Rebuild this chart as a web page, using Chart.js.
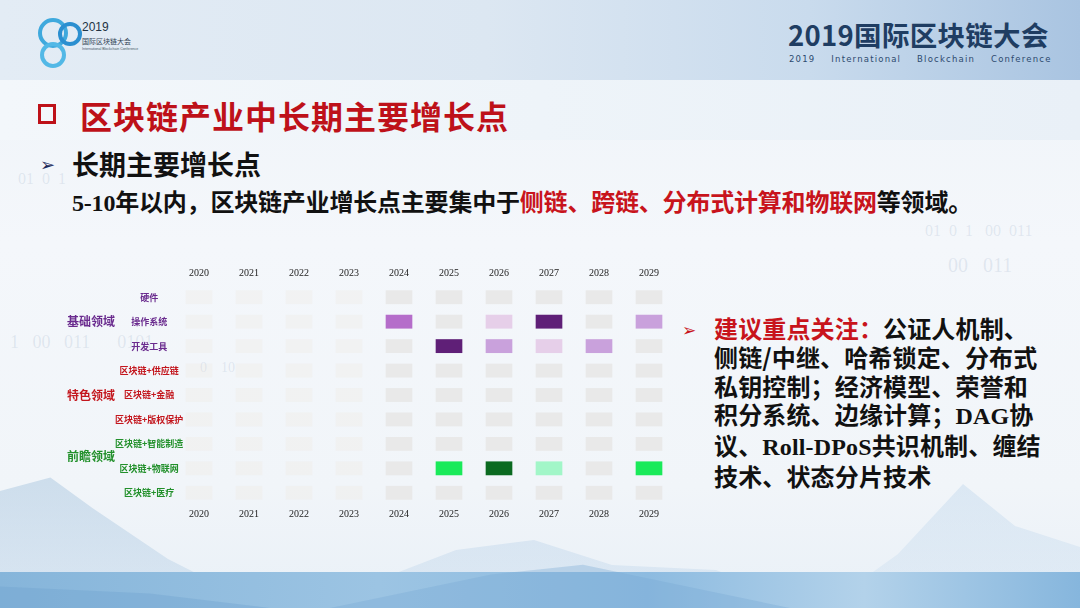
<!DOCTYPE html>
<html>
<head>
<meta charset="utf-8">
<script src="https://cdn.jsdelivr.net/npm/chart.js@4/dist/chart.umd.min.js"></script>
<style>
  html, body { margin: 0; padding: 0; }
  body { width: 1080px; height: 608px; position: relative; overflow: hidden;
         background: linear-gradient(180deg, #eef3f8 0%, #f4f7fb 40%, #f1f5f9 80%, #e9f0f7 100%);
         font-family: "Noto Sans CJK SC", sans-serif; }
  .abs { position: absolute; }
  #header { left: 0; top: 0; width: 1080px; height: 80px;
            background: linear-gradient(90deg, #e3ecf5 0%, #dce7f2 45%, #c9dbed 75%, #a9c4e1 100%); }
  #band2 { left: 0; top: 80px; width: 1080px; height: 60px;
           background: linear-gradient(90deg, #f3f7fb 0%, #eef4f9 50%, #e9f0f7 100%); }
  #bottom { left: 0; top: 572px; width: 1080px; height: 36px;
            background: linear-gradient(90deg, #86b5da 0%, #9cc4e3 35%, #8dbbe0 60%, #b3d2ea 80%, #86b6dd 100%); }
  .mount { position: absolute; }
  .bin { position: absolute; color: rgba(150,170,195,0.22); font-family: "Liberation Serif", serif; white-space: pre; }
  #title { left: 80px; top: 92px; font-size: 32px; font-weight: 700; color: #be1119; letter-spacing: 1px; white-space: nowrap; }
  #sq { left: 38px; top: 104px; width: 12px; height: 14px; border: 3px solid #be1119; }
  #sub { left: 72px; top: 144px; font-size: 27px; font-weight: 700; color: #111; white-space: nowrap; }
  #arrow1 { left: 40px; top: 150px; font-size: 18px; color: #1c2a5a; }
  #line2 { left: 72px; top: 183px; font-size: 24px; font-weight: 700; color: #111; white-space: nowrap; letter-spacing: -0.2px; }
  #line2 .n { font-family: "Liberation Serif", serif; }
  .red { color: #c8141c; }
  #side { left: 714px; top: 314px; font-size: 24px; font-weight: 700; color: #111; line-height: 28.8px; white-space: nowrap; letter-spacing: 0.15px; }
  #side .n { font-family: "Liberation Serif", serif; }
  #arrow2 { left: 682px; top: 316px; font-size: 17px; color: #c8141c; }
  #conf { left: 788px; top: 14px; font-size: 27.5px; font-weight: 700; color: #1f3d62; white-space: nowrap; letter-spacing: 0.3px; }
  #confEn { left: 789px; top: 54px; font-size: 8.5px; color: #2d4a6e; letter-spacing: 1.2px; word-spacing: 12px; white-space: nowrap; font-family: "DejaVu Sans", sans-serif; }
  #logoT1 { left: 82px; top: 20px; font-size: 12px; color: #234; font-family: "Liberation Sans", sans-serif; }
  #logoT2 { left: 82px; top: 36px; font-size: 7px; color: #345; }
  #logoT3 { left: 82px; top: 47px; font-size: 3.5px; color: #456; white-space: nowrap; font-family: "Liberation Sans", sans-serif; }
  .c { position: absolute; border-radius: 50%; }
  #chart { position: absolute; left: 0; top: 255px; }
</style>
</head>
<body>
<div id="header" class="abs"></div>
<div id="band2" class="abs"></div>

<!-- faint mountains -->
<div class="mount" style="left:0;top:440px;width:420px;height:170px;background:linear-gradient(180deg,rgba(150,185,215,0.45),rgba(170,200,228,0.25));clip-path:polygon(0 30%,12% 22%,22% 40%,40% 70%,60% 95%,100% 100%,0 100%);"></div>
<div class="mount" style="left:300px;top:510px;width:520px;height:100px;background:linear-gradient(180deg,rgba(170,200,228,0.35),rgba(170,200,228,0.2));clip-path:polygon(0 100%,30% 40%,45% 30%,60% 55%,80% 60%,100% 100%);"></div>
<div class="mount" style="left:820px;top:470px;width:260px;height:140px;background:linear-gradient(180deg,rgba(175,205,232,0.35),rgba(175,205,232,0.15));clip-path:polygon(0 100%,30% 60%,55% 10%,75% 40%,100% 55%,100% 100%);"></div>
<div id="bottom" class="abs"></div>
<div class="mount" style="left:0;top:572px;width:600px;height:36px;background:rgba(110,160,205,0.35);clip-path:polygon(0 40%,25% 60%,45% 100%,0 100%);"></div>
<div class="mount" style="left:330px;top:560px;width:460px;height:48px;background:rgba(120,170,212,0.35);clip-path:polygon(0 100%,35% 30%,55% 10%,75% 50%,100% 100%);"></div>

<!-- binary decorations -->
<div class="bin" style="left:18px;top:170px;font-size:16px;">01  0  1</div>
<div class="bin" style="left:10px;top:332px;font-size:18px;">1   00   011      0101</div>
<div class="bin" style="left:200px;top:360px;font-size:14px;">0    10</div>
<div class="bin" style="left:925px;top:222px;font-size:16px;">01  0  1   00  011</div>
<div class="bin" style="left:948px;top:254px;font-size:20px;">00   011</div>

<!-- logo -->
<div class="c" style="left:38px;top:18px;width:22px;height:22px;border:4px solid #3fa9dd;"></div>
<div class="c" style="left:58px;top:22px;width:16px;height:16px;border:4px solid #2b8fd0;"></div>
<div class="c" style="left:40px;top:42px;width:18px;height:18px;border:4px solid #52b8e6;"></div>
<div id="logoT1" class="abs">2019</div>
<div id="logoT2" class="abs">国际区块链大会</div>
<div id="logoT3" class="abs">International Blockchain Conference</div>

<div id="conf" class="abs">2019国际区块链大会</div>
<div id="confEn" class="abs">2019 International Blockchain Conference</div>

<div id="sq" class="abs"></div>
<div id="title" class="abs">区块链产业中长期主要增长点</div>
<div id="arrow1" class="abs">➢</div>
<div id="sub" class="abs">长期主要增长点</div>
<div id="line2" class="abs"><span class="n">5-10</span>年以内，区块链产业增长点主要集中于<span class="red">侧链、跨链、分布式计算和物联网</span>等领域。</div>

<div id="arrow2" class="abs">➢</div>
<div id="side" class="abs"><span class="red">建议重点关注：</span>公证人机制、<br>侧链/中继、哈希锁定、分布式<br>私钥控制；经济模型、荣誉和<br>积分系统、边缘计算；<span class="n">DAG</span>协<br>议、<span class="n">Roll-DPoS</span>共识机制、缠结<br>技术、状态分片技术</div>

<canvas id="chart" width="700" height="270"></canvas>

<script>
// 数据
const years = ["2020", "2021", "2022", "2023", "2024", "2025", "2026", "2027", "2028", "2029"];
const rows = ["硬件", "操作系统", "开发工具", "区块链+供应链", "区块链+金融", "区块链+版权保护", "区块链+智能制造", "区块链+物联网", "区块链+医疗"];
const rowGroup = [0, 0, 0, 1, 1, 1, 2, 2, 2];
const groups = ["基础领域", "特色领域", "前瞻领域"];
const groupRow = [1, 4, 6.5];
// 强度 0 = 无, 1..4 = 浅到深
const hardware  = [0, 0, 0, 0, 0, 0, 0, 0, 0, 0];
const os        = [0, 0, 0, 0, 3, 0, 1, 4, 0, 2];
const devTools  = [0, 0, 0, 0, 0, 4, 2, 1, 2, 0];
const supply    = [0, 0, 0, 0, 0, 0, 0, 0, 0, 0];
const finance   = [0, 0, 0, 0, 0, 0, 0, 0, 0, 0];
const copyright = [0, 0, 0, 0, 0, 0, 0, 0, 0, 0];
const manufact  = [0, 0, 0, 0, 0, 0, 0, 0, 0, 0];
const iot       = [0, 0, 0, 0, 0, 3, 4, 1, 0, 3];
const medical   = [0, 0, 0, 0, 0, 0, 0, 0, 0, 0];
const levels = [hardware, os, devTools, supply, finance, copyright, manufact, iot, medical];

const groupColors = ["#6a2b8e", "#c3161d", "#22902b"];
const palettes = [
  [null, "#e6cfe9", "#c9a1dc", "#b56dca", "#5f1f77"],
  [null, "#f2b8b8", "#e57373", "#d23a3a", "#8f1010"],
  [null, "#a2f6c8", "#5ef08f", "#1aea5a", "#0b6a20"]
];
// 空格子: 前几年几乎看不见
function emptyColor(j) { return j < 4 ? "rgba(236,228,214,0.22)" : "#e9e9e9"; }

const datasets = rows.map((r, i) => ({
  label: r,
  data: years.map(() => [i - 0.27, i + 0.27]),
  backgroundColor: levels[i].map((v, j) => v ? palettes[rowGroup[i]][v] : emptyColor(j)),
  borderWidth: 0,
  borderSkipped: false,
  barThickness: 26,
  grouped: false
}));

const yearFont = { family: "Liberation Serif", size: 10 };

// 左侧分组标题
const groupLabels = {
  id: "groupLabels",
  afterDraw(chart) {
    const ctx = chart.ctx, y = chart.scales.y;
    ctx.save();
    ctx.font = "bold 12px 'Noto Sans CJK SC'";
    ctx.textAlign = "center";
    ctx.textBaseline = "middle";
    groups.forEach((g, k) => {
      ctx.fillStyle = groupColors[k];
      ctx.fillText(g, 91, y.getPixelForValue(groupRow[k]));
    });
    ctx.restore();
  }
};

new Chart(document.getElementById("chart"), {
  type: "bar",
  data: { labels: years, datasets: datasets },
  options: {
    responsive: false,
    animation: false,
    devicePixelRatio: 1,
    layout: { padding: { left: 0, right: 26, top: 0, bottom: 0 } },
    plugins: { legend: { display: false }, tooltip: { enabled: false } },
    scales: {
      x: {
        type: "category", position: "bottom", offset: true,
        grid: { display: false, drawTicks: false }, border: { display: false },
        ticks: { font: yearFont, color: "#222", padding: 3, maxRotation: 0 },
        afterFit(s) { s.height = 20; }
      },
      x2: {
        type: "category", position: "top", offset: true, labels: years,
        grid: { display: false, drawTicks: false }, border: { display: false },
        ticks: { font: yearFont, color: "#222", padding: 6, maxRotation: 0 },
        afterFit(s) { s.height = 30; }
      },
      y: {
        type: "linear", min: -0.5, max: 8.5, reverse: true,
        grid: { display: false, drawTicks: false }, border: { display: false },
        afterBuildTicks(s) { s.ticks = rows.map((r, i) => ({ value: i })); },
        afterFit(s) { s.width = 174; },
        ticks: {
          mirror: true,
          crossAlign: "center",
          padding: -59,
          font: { family: "Noto Sans CJK SC", size: 9, weight: "bold" },
          color: c => groupColors[rowGroup[c.index]],
          callback: v => rows[v]
        }
      }
    }
  },
  plugins: [groupLabels]
});
</script>
</body>
</html>
